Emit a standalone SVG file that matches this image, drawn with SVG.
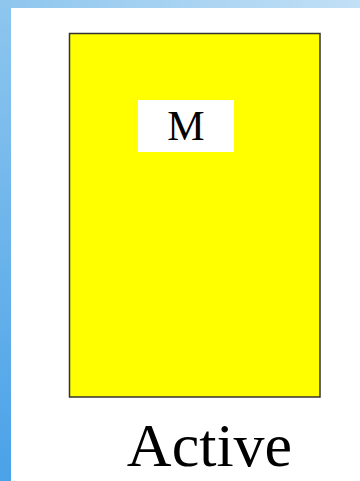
<svg xmlns="http://www.w3.org/2000/svg" width="360" height="481" viewBox="0 0 360 481">
<defs>
<linearGradient id="top" x1="0" y1="0" x2="1" y2="0"><stop offset="0" stop-color="#8ec6ee"/><stop offset="1" stop-color="#c2e0f6"/></linearGradient>
<linearGradient id="left" x1="0" y1="0" x2="0" y2="1"><stop offset="0" stop-color="#8ec6ee"/><stop offset="1" stop-color="#4aa2e8"/></linearGradient>
<style>
.t{font-family:"Liberation Serif","Times New Roman",serif;fill:#000;text-anchor:middle}
</style>
</defs>
<rect width="360" height="481" fill="#fff"/>
<rect x="0" y="0" width="360" height="8" fill="url(#top)"/>
<rect x="0" y="0" width="11" height="481" fill="url(#left)"/>
<g id="active">
<rect x="69.5" y="33.5" width="250.5" height="363.5" fill="#ffff00" stroke="#333" stroke-width="1.5"/>
<g id="m">
<rect x="138" y="100" width="96" height="52" fill="#fff"/>
<text class="t" x="186" y="140" font-size="42">M</text>
</g>
<text class="t" x="209.5" y="466" font-size="62">Active</text>
</g>
<g id="connectors"/>
</svg>
